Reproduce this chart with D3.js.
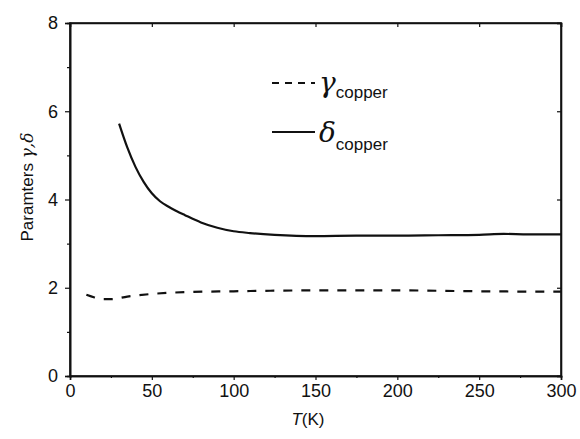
<!DOCTYPE html>
<html>
<head>
<meta charset="utf-8">
<script src="https://cdn.jsdelivr.net/npm/d3@7"></script>
<style>
  body { margin: 0; background: #fff; }
  text { font-family: "Liberation Sans", Arial, sans-serif; fill: #111; }
</style>
</head>
<body>
<div id="chart"></div>
<script>
var width = 580, height = 439;
var margin = {top: 23, right: 19, bottom: 63, left: 70};

// gamma (dashed) and delta (solid) for copper
var tGamma = [10, 15, 20, 25, 35, 50, 70, 100, 150, 200, 250, 300];
var gamma  = [1.84, 1.78, 1.74, 1.74, 1.8, 1.86, 1.9, 1.92, 1.94, 1.94, 1.92, 1.91];
var tDelta = [30, 35, 40, 45, 50, 55, 60, 65, 70, 80, 90, 100, 110, 125, 150, 175, 200, 225, 250, 265, 280, 300];
var delta  = [5.72, 5.18, 4.74, 4.4, 4.14, 3.96, 3.84, 3.74, 3.65, 3.48, 3.36, 3.28, 3.24, 3.2, 3.17, 3.18, 3.18, 3.19, 3.2, 3.22, 3.21, 3.21];

var xTicks = [0, 50, 100, 150, 200, 250, 300];
var yTicks = [0, 2, 4, 6, 8];

var svg = d3.select("#chart").append("svg")
    .attr("width", width)
    .attr("height", height);

var x = d3.scaleLinear().domain([0, 300]).range([margin.left, width - margin.right]);
var y = d3.scaleLinear().domain([0, 8]).range([height - margin.bottom, margin.top]);

// frame
svg.append("rect")
    .attr("x", x(0)).attr("y", y(8))
    .attr("width", x(300) - x(0)).attr("height", y(0) - y(8))
    .attr("fill", "none").attr("stroke", "#111").attr("stroke-width", 1.6);

// left axis, ticks outward
svg.append("g").attr("transform", "translate(" + x(0) + ",0)")
    .call(d3.axisLeft(y).tickValues(yTicks).tickSize(5).tickPadding(7).tickFormat(d3.format("d")));
svg.append("g").attr("transform", "translate(" + x(0) + ",0)")
    .call(d3.axisLeft(y).tickValues([1, 3, 5, 7]).tickSize(3).tickFormat(""));

svg.append("g").attr("transform", "translate(0," + y(0) + ")")
    .call(d3.axisBottom(x).tickValues(xTicks).tickSize(4).tickPadding(4).tickFormat(d3.format("d")));
svg.append("g").attr("transform", "translate(0," + y(0) + ")")
    .call(d3.axisBottom(x).tickValues([25, 75, 125, 175, 225, 275]).tickSize(2).tickFormat(""));

// top / right ticks inward
svg.append("g").attr("transform", "translate(0," + y(8) + ")")
    .call(d3.axisBottom(x).tickValues(xTicks).tickSize(4).tickFormat(""));
svg.append("g").attr("transform", "translate(" + x(300) + ",0)")
    .call(d3.axisLeft(y).tickValues(yTicks).tickSize(4).tickFormat(""));

svg.selectAll(".domain").attr("stroke", "#111").attr("stroke-width", 1.6);
svg.selectAll(".tick line").attr("stroke", "#111").attr("stroke-width", 1.2);
svg.selectAll(".tick text").attr("font-size", 18).attr("fill", "#111")
    .style("font-family", "'Liberation Sans', Arial, sans-serif");

// axis titles
var xt = svg.append("text")
    .attr("x", 308).attr("y", 425)
    .attr("text-anchor", "middle").attr("font-size", 17);
xt.append("tspan").attr("font-style", "italic").text("T");
xt.append("tspan").text("(K)");

var yt = svg.append("text")
    .attr("transform", "translate(33,187) rotate(-90)")
    .attr("text-anchor", "middle").attr("font-size", 17);
yt.append("tspan").text("Paramters ");
yt.append("tspan").attr("font-style", "italic").attr("font-family", "'DejaVu Serif', serif").text("γ,δ");

// curves
var line = d3.line().curve(d3.curveMonotoneX)
    .x(function(d) { return x(d[0]); })
    .y(function(d) { return y(d[1]); });

svg.append("path")
    .datum(d3.zip(tGamma, gamma))
    .attr("d", line)
    .attr("fill", "none").attr("stroke", "#111").attr("stroke-width", 2.2)
    .attr("stroke-dasharray", "9,9");

svg.append("path")
    .datum(d3.zip(tDelta, delta))
    .attr("d", line)
    .attr("fill", "none").attr("stroke", "#111").attr("stroke-width", 2.2);

// legend
var legend = [
  {sym: "γ", dash: "7,6", y: 83, base: 9, sub: 6},
  {sym: "δ", dash: null, y: 132, base: 10, sub: 8}
];
legend.forEach(function(d) {
  svg.append("line")
      .attr("x1", 272).attr("x2", 315).attr("y1", d.y).attr("y2", d.y)
      .attr("stroke", "#111").attr("stroke-width", 2.2)
      .attr("stroke-dasharray", d.dash);
  var t = svg.append("text").attr("x", 319).attr("y", d.y + d.base);
  t.append("tspan").attr("font-size", 28).attr("font-style", "italic")
      .attr("font-family", "'DejaVu Serif', serif").text(d.sym);
  t.append("tspan").attr("font-size", 17).attr("dy", d.sub).text("copper");
});
</script>
</body>
</html>
